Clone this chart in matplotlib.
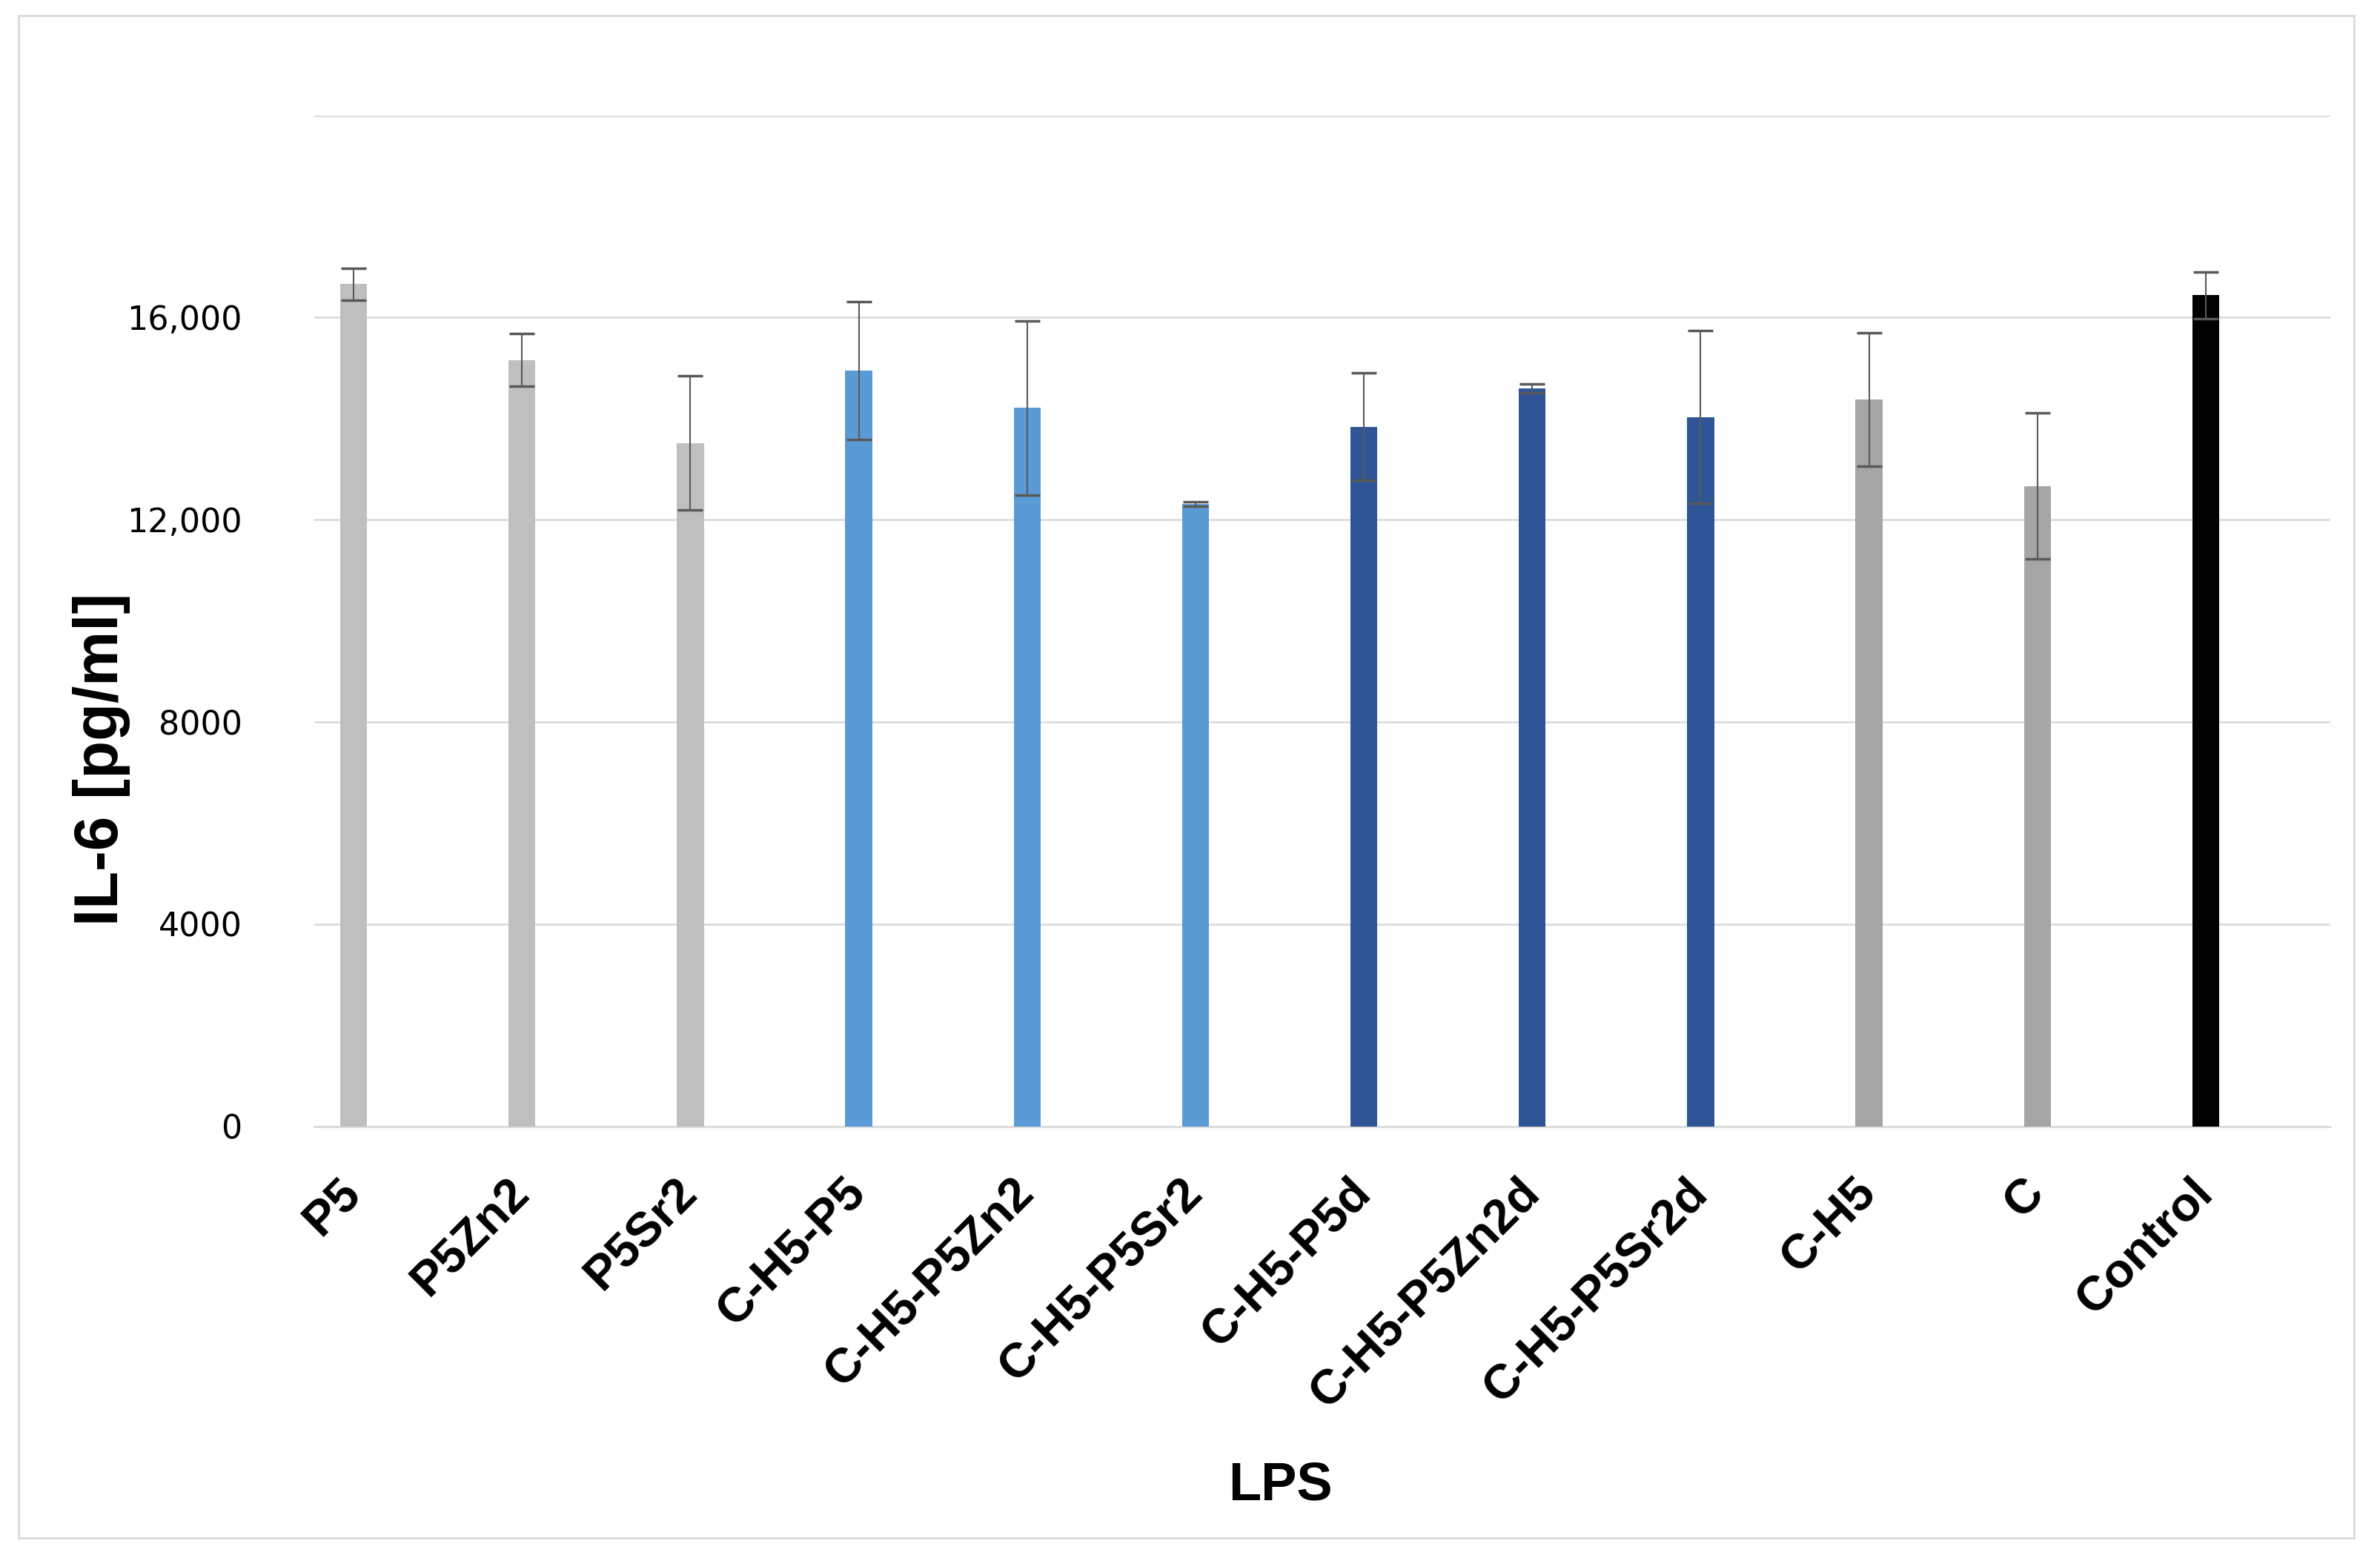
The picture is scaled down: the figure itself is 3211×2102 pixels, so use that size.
import numpy as np
import matplotlib
matplotlib.use("Agg")
import matplotlib.pyplot as plt
from matplotlib.patches import Rectangle

# data
groups = ["P5", "P5Zn2", "P5Sr2", "C-H5-P5", "C-H5-P5Zn2", "C-H5-P5Sr2",
          "C-H5-P5d", "C-H5-P5Zn2d", "C-H5-P5Sr2d", "C-H5", "C", "Control"]
il6 = [16660, 15160, 13520, 14950, 14210, 12310,
       13840, 14600, 14030, 14380, 12670, 16440]
il6_err = [315, 520, 1330, 1370, 1720, 40,
           1065, 90, 1710, 1320, 1440, 463]
bar_colors = ["#BFBFBF", "#BFBFBF", "#BFBFBF",
              "#5B9BD5", "#5B9BD5", "#5B9BD5",
              "#2F5597", "#2F5597", "#2F5597",
              "#A5A5A5", "#A5A5A5", "#000000"]
yticks = [0, 4000, 8000, 12000, 16000, 20000]
ytick_labels = ["0", "4000", "8000", "12,000", "16,000", ""]

W, H = 3211, 2102
fig = plt.figure(figsize=(W / 100, H / 100), dpi=100)
fig.patches.append(Rectangle((25 / W, 1 - 2075 / H), 3151 / W, 2054 / H,
                             transform=fig.transFigure, fill=False,
                             edgecolor="#D9D9D9", linewidth=2))

ax = fig.add_axes([424 / W, 1 - 1519.6 / H, 2720 / W, 1364 / H])
x = np.arange(len(groups))
ax.bar(x, il6, width=0.16, color=bar_colors, zorder=3,
       yerr=il6_err, error_kw=dict(ecolor="#595959", elinewidth=1.5,
                                   capsize=12, capthick=2.5, zorder=4))

ax.set_xlim(-0.234, 11.74)
ax.set_ylim(0, 20000)
ax.set_yticks(yticks)
ax.set_yticklabels(ytick_labels, fontfamily="DejaVu Sans", fontsize=32)
ax.tick_params(axis="y", length=0, pad=70)
ax.yaxis.grid(True, color="#D9D9D9", linewidth=1.8, zorder=0)

ax.set_xticks(x)
ax.set_xticklabels(groups, rotation=45, ha="right", va="center",
                   rotation_mode="anchor", fontsize=47, fontweight="bold",
                   fontfamily="Liberation Sans")
ax.tick_params(axis="x", length=0, pad=58)

for s in ["top", "right", "left"]:
    ax.spines[s].set_visible(False)
ax.spines["bottom"].set_color("#D9D9D9")
ax.spines["bottom"].set_linewidth(1.8)

fig.text(137 / W, 1 - 1024 / H, "IL-6 [pg/ml]", rotation=90, ha="center",
         va="center", fontsize=60, fontweight="bold", fontfamily="Liberation Sans")
fig.text(1727 / W, 1 - 2005 / H, "LPS", ha="center", va="center",
         fontsize=52, fontweight="bold", fontfamily="Liberation Sans")

fig.savefig("out.png", dpi=100)
